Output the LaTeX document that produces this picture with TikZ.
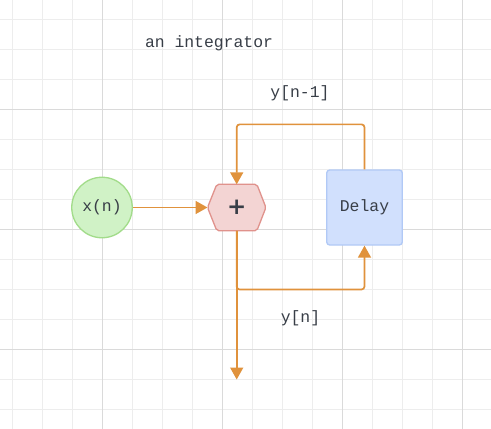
\documentclass[tikz,border=0pt]{standalone}
\usepackage{fontspec}
\setmonofont{Liberation Mono}
\newfontfamily\plusfont{DejaVu Sans}
\usetikzlibrary{arrows.meta}
\definecolor{gridminor}{HTML}{EDEDED}
\definecolor{gridmajor}{HTML}{DADADA}
\definecolor{txt}{HTML}{383E47}
\definecolor{org}{HTML}{E0923C}
\definecolor{gfill}{HTML}{D0F2C6}
\definecolor{gline}{HTML}{A2DC8A}
\definecolor{rfill}{HTML}{F3D4D3}
\definecolor{rline}{HTML}{E0928C}
\definecolor{bfill}{HTML}{D1E0FD}
\definecolor{bline}{HTML}{B1C9F6}
\tikzset{
  lbl/.style={font=\ttfamily\fontsize{16.4}{18}\selectfont, text=txt, inner sep=0pt},
  conn/.style={draw=org, line width=1.7pt, rounded corners=3pt, -{Triangle[length=12pt,width=13pt]}},
}
\begin{document}
\begin{tikzpicture}[x=1pt,y=-1pt]
\useasboundingbox (0,0) rectangle (491,429);
\fill[white] (0,0) rectangle (491,429);
% grid
\foreach \k in {0,...,16}{
  \draw[gridminor, line width=0.8pt] ({12.7+30*\k},0) -- ({12.7+30*\k},429);
}
\foreach \k in {0,...,13}{
  \draw[gridminor, line width=0.8pt] (0,{19.3+30*\k}) -- (491,{19.3+30*\k});
}
\foreach \x in {102.7,222.7,342.7,462.7}{
  \draw[gridmajor, line width=0.8pt] (\x,0) -- (\x,429);
}
\foreach \y in {109.3,229.3,349.3}{
  \draw[gridmajor, line width=0.8pt] (0,\y) -- (491,\y);
}
% nodes
\node[circle, minimum size=60.5pt, inner sep=0pt, fill=gfill, draw=gline, line width=1.3pt, lbl] (x) at (102,207.5) {x(n)};
\node[rectangle, minimum width=58pt, minimum height=46pt, inner sep=0pt] (h) at (236.7,207.5) {};
\filldraw[fill=rfill, draw=rline, line width=1.3pt, rounded corners=2pt]
  (h.west) -- ([xshift=9.3pt]h.north west) -- ([xshift=-9pt]h.north east) -- (h.east)
  -- ([xshift=-9pt]h.south east) -- ([xshift=9.3pt]h.south west) -- cycle;
\node[font=\plusfont\bfseries\fontsize{23}{23}\selectfont, text=txt, inner sep=0pt] at (h.center) {+};
\node[rectangle, rounded corners=3pt, minimum width=75.6pt, minimum height=75pt, inner sep=0pt, fill=bfill, draw=bline, line width=1.3pt, lbl] (d) at (364.5,207.5) {Delay};
\coordinate (out) at (236.7,379.5);
% connectors
\draw[conn] (x.east) -- (h.west);
\draw[conn] (d.north) -- ++(0,-45) -| (h.north);
\draw[conn] (h.south) -- ++(0,58.8) -| (d.south);
\draw[conn] (h.south) -- (out);
% labels
\node[lbl] (t1) at (209,43) {an integrator};
\node[lbl] (t2) at (300,93) {y[n-1]};
\node[lbl] (t3) at (300.5,318) {y[n]};
\end{tikzpicture}
\end{document}
